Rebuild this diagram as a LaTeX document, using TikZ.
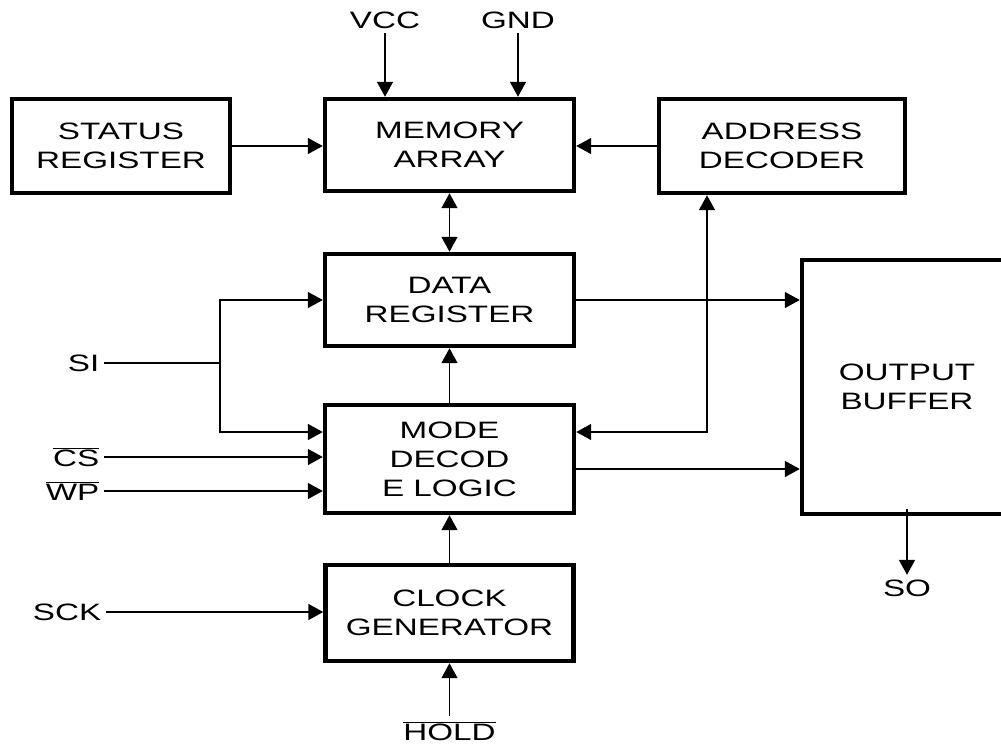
\documentclass[tikz,border=0pt]{standalone}
\usepackage{fontspec}
\setmainfont{Liberation Sans}[FakeStretch=1.4]
\usepackage{tikz}
\usetikzlibrary{positioning}
\usetikzlibrary{calc,arrows.meta}
\tikzset{
	block/.style = {draw, line width=0.09cm, align=center, inner sep=0pt,
		font=\fontsize{13.5}{16.5}\selectfont},
	pin/.style = {inner sep=0.08cm, font=\fontsize{13.5}{16.5}\selectfont},
}

\begin{document}
\begin{tikzpicture}[->,>={Triangle[length=0.3cm,width=0.32cm]},
  line width=0.03cm, x=0.02cm, y=-0.02cm]
                \useasboundingbox (0,0) rectangle (1001,747);
                % blocks
                \node (Status)  [block, minimum width=4.36cm, minimum height=1.88cm] at (121,146) {STATUS\\REGISTER};
                \node (Memory)  [block, minimum width=4.98cm, minimum height=1.84cm] at (449.5,145) {MEMORY\\ARRAY};
                \node (Address) [block, minimum width=4.92cm, minimum height=1.88cm] at (782,146) {ADDRESS\\DECODER};
                \node (Data)    [block, minimum width=4.98cm, minimum height=1.84cm] at (449.5,300) {DATA\\REGISTER};
                \node (Mode)    [block, minimum width=4.98cm, minimum height=2.16cm] at (449.5,459) {MODE\\DECOD\\E LOGIC};
                \node (Clock)   [block, minimum width=4.96cm, minimum height=1.92cm] at (449.5,613) {CLOCK\\GENERATOR};
                \node (Output)  [block, minimum width=4.2cm, minimum height=5.08cm] at (907,387) {OUTPUT\\BUFFER};
                % pins
                \node (VCC)  [pin] at (385,20) {VCC};
                \node (GND)  [pin] at (518,20) {GND};
                \node (SI)   [pin, anchor=east] at (104,363) {SI};
                \node (CS)   [pin, anchor=east] at (104,457) {$\overline{\mbox{CS}}$};
                \node (WP)   [pin, anchor=east] at (104,491) {$\overline{\mbox{WP}}$};
                \node (SCK)  [pin, anchor=east] at (106,612) {SCK};
                \node (HOLD) [pin] at (449.5,731) {$\overline{\mbox{HOLD}}$};
                \node (SO)   [pin] at (907,588) {SO};
                \coordinate (SIsplit) at (220,363);
                \coordinate (SIlow) at (220,432);
                \path (Address.south) ++(-75,0) coordinate (AddrTap);
                \coordinate (ModeOut) at ([yshift=-0.2cm]Mode.east);
                % connectors
                \draw (VCC) -- (VCC |- Memory.north);
                \draw (GND) -- (GND |- Memory.north);
                \draw (Status) -- (Status -| Memory.west);
                \draw (Address) -- (Address -| Memory.east);
                \draw[<->] (Memory) -- (Data);
                \draw[-] (SI) -- (SIsplit);
                \draw (SIsplit) |- (Data);
                \draw (SIsplit) -- (SIlow) -- (SIlow -| Mode.west);
                \draw (CS) -- (CS -| Mode.west);
                \draw (WP) -- (WP -| Mode.west);
                \draw (Mode) -- (Data);
                \draw (Clock) -- (Mode);
                \draw (SCK) -- (SCK -| Clock.west);
                \draw (HOLD) -- (HOLD |- Clock.south);
                \draw[<->] (Mode.east |- SIlow) -| (AddrTap);
                \draw (Data) -- (Data -| Output.west);
                \draw (ModeOut) -- (ModeOut -| Output.west);
                \draw ([yshift=0.14cm]Output.south) -- (SO);
        \end{tikzpicture}
\end{document}
